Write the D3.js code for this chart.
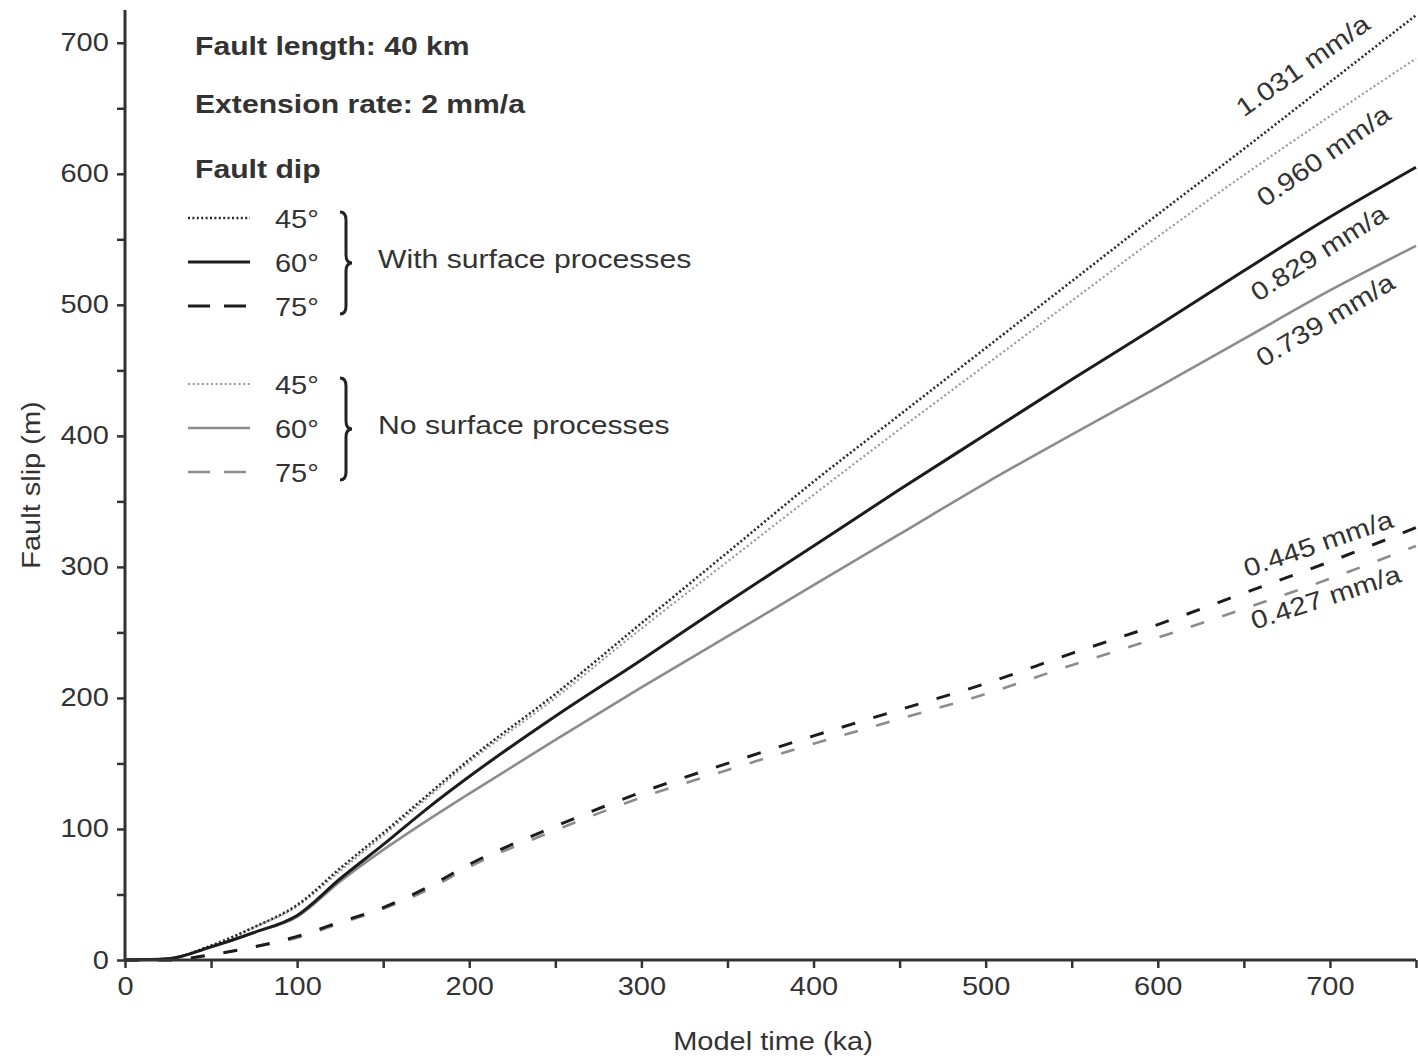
<!DOCTYPE html>
<html>
<head>
<meta charset="utf-8">
<script src="https://cdn.jsdelivr.net/npm/d3@7"></script>
<style>
  body { margin: 0; background: #fff; }
  svg { font-family: "Liberation Sans", Arial, sans-serif; }
  .axis path, .axis line { stroke: #333; }
  .axis text { fill: #333; font-size: 25px; }
</style>
</head>
<body>
<div class="canva"></div>
<script>
// model time (ka)
const times = [0, 25, 50, 75, 100, 125, 150, 175, 200, 250, 300, 350, 400, 450, 500, 550, 600, 650, 700, 750];

// fault slip (m)
const dip45Surf   = [0, 1, 11, 25, 42, 70, 97, 125, 153, 203, 257, 311, 365, 416, 467, 518, 569, 619, 670, 721];
const dip60Surf   = [0, 1, 10, 21, 34, 62, 88, 115, 140, 186, 229, 273, 316, 359, 401, 443, 484, 526, 567, 605];
const dip75Surf   = [0, 0, 4, 10, 18, 29, 40, 55, 73, 102, 128, 150, 171, 191, 211, 234, 256, 280, 304, 330];
const dip45NoSurf = [0, 1, 11, 25, 41, 68, 95, 123, 151, 200, 253, 304, 355, 405, 454, 503, 552, 599, 644, 688];
const dip60NoSurf = [0, 1, 10, 21, 33, 60, 84, 106, 127, 168, 208, 247, 286, 325, 364, 401, 437, 474, 511, 545];
const dip75NoSurf = [0, 0, 4, 10, 17, 28, 39, 53, 71, 99, 124, 145, 165, 184, 203, 225, 246, 268, 291, 316];

const xTicks = [0, 100, 200, 300, 400, 500, 600, 700];
const yTicks = [0, 100, 200, 300, 400, 500, 600, 700];

// rate labels: text, position (ka, m), angle
const rateLabels = [
  {text: "1.031 mm/a", t: 650, v: 643, a: -35},
  {text: "0.960 mm/a", t: 662, v: 574, a: -35},
  {text: "0.829 mm/a", t: 658, v: 502, a: -32.5},
  {text: "0.739 mm/a", t: 661, v: 452, a: -31},
  {text: "0.445 mm/a", t: 652, v: 292, a: -19},
  {text: "0.427 mm/a", t: 656, v: 252, a: -18}
];

const stretch = 1.16; // the figure's lettering is a bit wide

const svg = d3.select(".canva").append("svg")
  .attr("width", 1418)
  .attr("height", 1058);

const x = d3.scaleLinear().domain([0, 750]).range([125, 1416]);
const y = d3.scaleLinear().domain([0, 725]).range([960, 10]);

function addText(px, py, str, size, opts = {}) {
  return svg.append("text")
    .attr("transform", `translate(${px}, ${py}) rotate(${opts.angle || 0}) scale(${stretch}, 1)`)
    .attr("text-anchor", opts.anchor || "start")
    .style("font-size", size + "px")
    .style("font-weight", opts.bold ? "bold" : "normal")
    .style("fill", "#333")
    .text(str);
}

// styles of each series
const series = [
  {vals: dip45NoSurf, color: "#9a9a9a", width: 2.2, dash: "2,2.6"},
  {vals: dip60NoSurf, color: "#8c8c8c", width: 2.6, dash: null},
  {vals: dip75NoSurf, color: "#8c8c8c", width: 2.6, dash: "14,19"},
  {vals: dip45Surf,   color: "#2a2a2a", width: 2.6, dash: "2,2.4"},
  {vals: dip60Surf,   color: "#1c1c1c", width: 3,   dash: null},
  {vals: dip75Surf,   color: "#1c1c1c", width: 3,   dash: "14,19"}
];

const line = d3.line()
  .x((d, i) => x(times[i]))
  .y(d => y(d))
  .curve(d3.curveMonotoneX);

series.forEach(s => {
  svg.append("path")
    .datum(s.vals)
    .attr("fill", "none")
    .attr("stroke", s.color)
    .attr("stroke-width", s.width)
    .attr("stroke-dasharray", s.dash)
    .attr("d", line);
});

// axes
const xAxis = svg.append("g")
  .attr("class", "axis")
  .attr("transform", `translate(0, ${y(0)})`)
  .call(d3.axisBottom(x).tickValues(d3.range(0, 751, 50)).tickSize(8).tickPadding(9)
    .tickFormat(d => xTicks.includes(d) ? d : ""));
xAxis.select(".domain").attr("stroke-width", 3).attr("d", `M${x(0)},0H${x(750)}`);
xAxis.selectAll(".tick line").attr("stroke-width", 2.5);
xAxis.selectAll(".tick text").attr("transform", `scale(${stretch}, 1)`);

const yAxis = svg.append("g")
  .attr("class", "axis")
  .attr("transform", `translate(${x(0)}, 0)`)
  .call(d3.axisLeft(y).tickValues(d3.range(0, 701, 50)).tickSize(8).tickPadding(6)
    .tickFormat(d => yTicks.includes(d) ? d : ""));
yAxis.select(".domain").attr("stroke-width", 3).attr("d", `M0,${y(0)}V${y(725)}`);
yAxis.selectAll(".tick line").attr("stroke-width", 2.5);
yAxis.selectAll(".tick text").attr("transform", `scale(${stretch}, 1)`);

// axis titles
addText(773, 1050, "Model time (ka)", 25, {anchor: "middle"});
addText(40, 485, "Fault slip (m)", 25, {anchor: "middle", angle: -90});

// rate labels
rateLabels.forEach(l => {
  addText(x(l.t), y(l.v), l.text, 25.5, {angle: l.a});
});

// header text
addText(195, 55, "Fault length: 40 km", 26, {bold: true});
addText(195, 113, "Extension rate: 2 mm/a", 26, {bold: true});
addText(195, 178, "Fault dip", 26, {bold: true});

// legend
const legendGroups = [
  {top: 218, label: "With surface processes", items: series.slice(3)},
  {top: 384, label: "No surface processes", items: series.slice(0, 3)}
];
const dipNames = ["45°", "60°", "75°"];

legendGroups.forEach(g => {
  g.items.forEach((s, i) => {
    const ly = g.top + i * 44;
    svg.append("line")
      .attr("x1", 188).attr("x2", 250).attr("y1", ly).attr("y2", ly)
      .attr("stroke", s.color)
      .attr("stroke-width", s.width)
      .attr("stroke-dasharray", s.dash ? (s.dash.startsWith("14") ? "22,14" : s.dash) : null);
    addText(275, ly + 10, dipNames[i], 25);
  });
  // brace
  const t = g.top - 6, b = g.top + 96, m = (t + b) / 2;
  svg.append("path")
    .attr("fill", "none").attr("stroke", "#222").attr("stroke-width", 3)
    .attr("d", `M340,${t} Q346,${t} 346,${t + 8} L346,${m - 8} Q346,${m} 352,${m} Q346,${m} 346,${m + 8} L346,${b - 8} Q346,${b} 340,${b}`);
  addText(378, m + 5, g.label, 26);
});
</script>
</body>
</html>
